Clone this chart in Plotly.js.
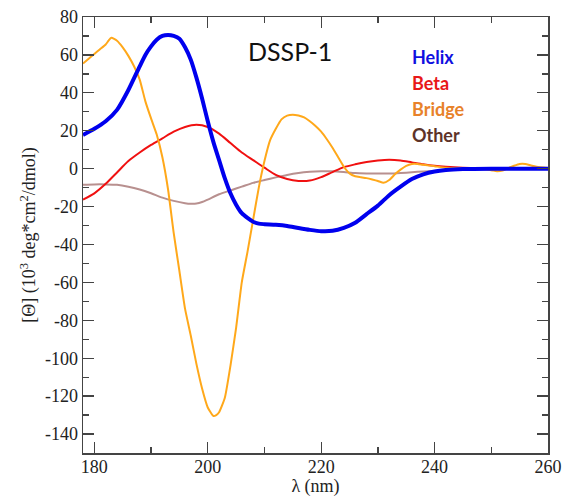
<!DOCTYPE html>
<html>
<head>
<meta charset="utf-8">
<script src="https://cdn.plot.ly/plotly-3.0.1.min.js"></script>
<style>html,body{margin:0;padding:0;background:#fff;}#chart{width:566px;height:497px;}</style>
</head>
<body>
<div id="chart"></div>
<script>
// Wavelength (nm) and ellipticity values (10^3 deg*cm^2/dmol)
const helixX = [178,180,182,184,186,188,189,190,191,192,193,194,195,196,197,198,199,200,201,202,203,204,205,206,207,208,209,210,212,214,216,218,220,222,224,226,228,230,232,234,236,238,240,242,245,250,255,260];
const helixY = [17.8,21,25,31,41.5,54,60,64.5,68,70,70.5,70,68.5,64,57.5,48,37,25,14,4.5,-5,-13,-19,-23.5,-26,-28,-29,-29.3,-29.6,-30.2,-31.3,-32.3,-33,-32.8,-31.2,-28.5,-24,-19.5,-14,-9.5,-5.5,-3,-1.5,-0.7,-0.2,0,0,0];

const betaX = [178,180,182,184,186,188,190,192,194,196,198,200,202,204,206,208,210,212,214,216,218,220,222,224,226,228,230,232,234,236,238,240,242,245,250,260];
const betaY = [-16.3,-13,-8,-2,4,8.5,12.5,16,19.5,22,23.1,22,18.5,13.5,8.5,4.5,0.5,-3.3,-5.5,-6.5,-6.3,-4.5,-1.8,0.8,2.3,3.5,4.3,4.7,4.3,3.3,2.3,1.5,1,0.5,0.1,0];

const bridgeX = [178,179,180,181,182,182.5,183,184,185,186,187,188,189,190,191,192,193,194,195,196,197,198,199,200,201,201.5,202,203,204,205,206,207,208,209,210,211,212,213,214,215,216,217,218,219,220,221,222,223,224,225,226,227,228,229,230,231,232,233,234,235,236,237,238,240,242,245,248,250,251,252,253,254,255,256,257,258,260];
const bridgeY = [55.5,58,60.5,63,65.5,67.5,69,67.5,64,59.5,54,47,35.5,26.5,18,6,-11,-34,-54,-74,-88,-103,-116,-126,-130.5,-130,-128.5,-121,-104,-84,-60,-44,-27,-10,4,15,21,26,28,28.5,28,27,25,22.5,19.5,15.5,11,6,1,-2.5,-4,-4.5,-5,-5.7,-6.5,-7.5,-6,-3,-0.5,1.5,2.5,2.5,2,1.3,0.5,0.3,0,-0.8,-1.4,-1,0.3,1.5,2.5,2.5,1.7,1,0.3];

const otherX = [178,180,182,184,186,188,190,192,194,196,197,198,199,200,202,204,206,208,210,212,214,216,218,220,222,224,226,228,230,232,234,236,238,240,244,248,252,260];
const otherY = [-8.5,-8.3,-8.3,-8.5,-9.5,-11,-13,-15.3,-17,-18.2,-18.5,-18.4,-17.6,-16.3,-13.5,-11.5,-9.5,-7.5,-6,-4.6,-3.3,-2.3,-1.7,-1.4,-1.4,-1.8,-2.3,-2.5,-2.6,-2.6,-2.3,-1.9,-1.5,-1.2,-0.6,-0.3,-0.1,0];

const seriesNames = ["Helix","Beta","Bridge","Other"];
const xTickVals = [180,200,220,240,260];
const xTickText = ["180","200","220","240","260"];
const yTickVals = [-140,-120,-100,-80,-60,-40,-20,0,20,40,60,80];
const yTickText = ["-140","-120","-100","-80","-60","-40","-20","0","20","40","60","80"];

const traces = [
  {x: otherX, y: otherY, name: seriesNames[3], mode:'lines', line:{color:'#b8908f', width:2, shape:'spline', smoothing:0.7}},
  {x: betaX, y: betaY, name: seriesNames[1], mode:'lines', line:{color:'#f01010', width:2, shape:'spline', smoothing:0.7}},
  {x: bridgeX, y: bridgeY, name: seriesNames[2], mode:'lines', line:{color:'#ffa81a', width:2, shape:'spline', smoothing:0.5}},
  {x: helixX, y: helixY, name: seriesNames[0], mode:'lines', line:{color:'#0000ee', width:4, shape:'spline', smoothing:0.7}}
];

const serif = '"Liberation Serif", "Times New Roman", serif';
const sans = 'Lato, "Open Sans", sans-serif';
const axisCommon = {
  showgrid:false, zeroline:false, showline:true, linecolor:'#444', linewidth:1.5,
  mirror:'ticks', ticks:'inside', ticklen:11, tickwidth:1.3, tickcolor:'#444',
  tickfont:{family:serif, size:18, color:'#222'}
};

const layout = {
  width:566, height:497,
  margin:{l:83, r:18, t:17, b:44},
  paper_bgcolor:'#fff', plot_bgcolor:'#fff',
  showlegend:false,
  xaxis: Object.assign({}, axisCommon, {
    range:[178,260], tickvals:xTickVals, ticktext:xTickText, ticklabelstandoff:-3,
    minor:{dtick:10, tick0:180, ticks:'inside', ticklen:6, tickwidth:1.3, tickcolor:'#444'},
    title:{text:'λ (nm)', font:{family:serif, size:18, color:'#222'}, standoff:6}
  }),
  yaxis: Object.assign({}, axisCommon, {
    range:[-150,80], tickvals:yTickVals, ticktext:yTickText,
    minor:{dtick:10, tick0:0, ticks:'inside', ticklen:6, tickwidth:1.3, tickcolor:'#444'},
    title:{text:'[Θ] (10<sup>3</sup> deg*cm<sup>2</sup>/dmol)', font:{family:serif, size:18, color:'#222'}, standoff:4}
  }),
  annotations:[
    {text:'DSSP-1', xref:'paper', yref:'paper', x:0.445, y:0.922, xanchor:'center', yanchor:'middle', showarrow:false, font:{family:sans, size:25, color:'#111'}},
    {text:'<b>Helix</b>', xref:'paper', yref:'paper', x:0.703, y:0.909, xanchor:'left', yanchor:'middle', showarrow:false, font:{family:sans, size:18, color:'#1010e0'}},
    {text:'<b>Beta</b>', xref:'paper', yref:'paper', x:0.703, y:0.849, xanchor:'left', yanchor:'middle', showarrow:false, font:{family:sans, size:18, color:'#e81818'}},
    {text:'<b>Bridge</b>', xref:'paper', yref:'paper', x:0.703, y:0.790, xanchor:'left', yanchor:'middle', showarrow:false, font:{family:sans, size:18, color:'#e8822a'}},
    {text:'<b>Other</b>', xref:'paper', yref:'paper', x:0.703, y:0.729, xanchor:'left', yanchor:'middle', showarrow:false, font:{family:sans, size:18, color:'#5e3328'}}
  ]
};

Plotly.newPlot('chart', traces, layout, {displayModeBar:false, staticPlot:true});
</script>
</body>
</html>
